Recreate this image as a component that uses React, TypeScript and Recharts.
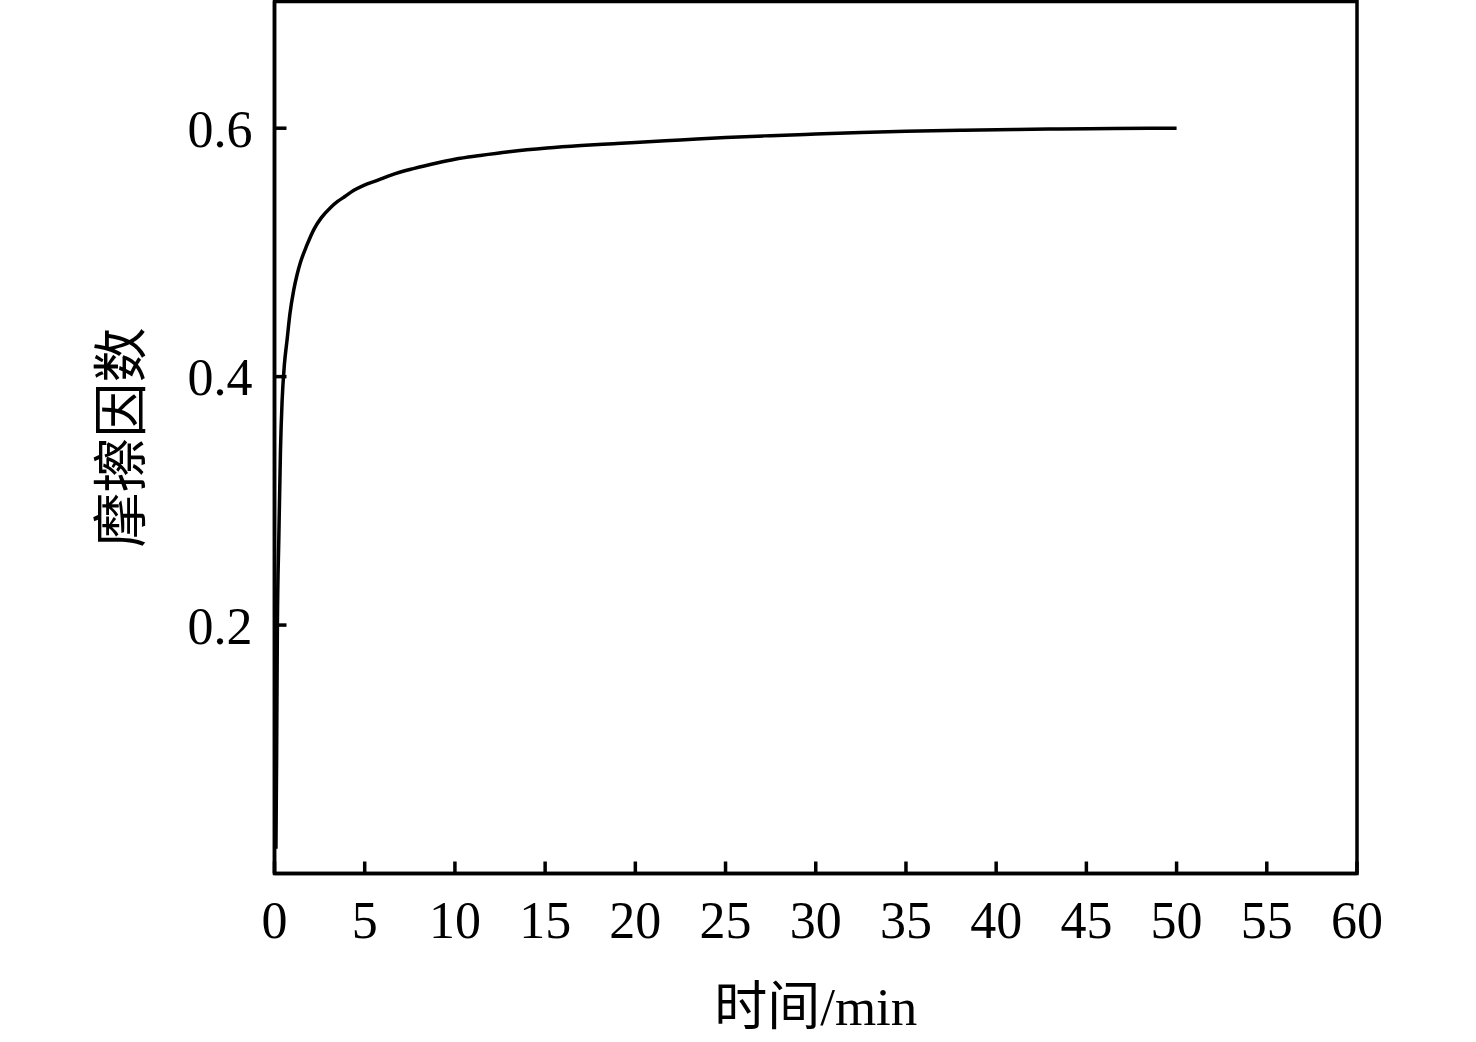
import React from 'react'
import { LineChart, Line, XAxis, YAxis, ReferenceArea } from 'recharts'

// time in minutes
const timeMin = [
  0.08, 0.12, 0.16, 0.24, 0.33, 0.42, 0.55, 0.7, 0.85, 1.07, 1.25, 1.44, 1.8, 2.2, 2.6, 3.1, 3.5,
  3.9, 4.4, 4.95, 5.7, 6.5, 7.7, 9, 10, 11.4, 13, 15.1, 17, 18.8, 20, 22.5, 25, 27.5, 30, 32.5, 35,
  38, 41, 43.5, 46.5, 48.5, 50,
]
// friction coefficient
const friction = [
  0.02, 0.1, 0.2, 0.27, 0.34, 0.38, 0.41, 0.43, 0.45, 0.47, 0.482, 0.492, 0.506, 0.519, 0.528,
  0.536, 0.541, 0.545, 0.55, 0.554, 0.558, 0.5625, 0.5675, 0.572, 0.575, 0.578, 0.581, 0.584,
  0.586, 0.5875, 0.5885, 0.5905, 0.5925, 0.594, 0.5953, 0.5965, 0.5975, 0.5983, 0.599, 0.5994,
  0.5998, 0.5999, 0.6,
]
const xTicks = [0, 5, 10, 15, 20, 25, 30, 35, 40, 45, 50, 55, 60]
const yTicks = [0.2, 0.4, 0.6]

const data = timeMin.map((t, i) => ({ t, f: friction[i] }))

const serif = "'Liberation Serif', 'Noto Sans CJK SC', serif"

export default function App() {
  return (
    <div style={{ position: 'absolute', left: 0, top: 0, background: '#fff' }}>
      <LineChart
        width={1476}
        height={1042}
        data={data}
        margin={{ top: 1.5, right: 119, bottom: 0, left: 0 }}
      >
        <XAxis
          dataKey="t"
          type="number"
          domain={[0, 60]}
          ticks={xTicks}
          interval={0}
          height={168.5}
          tickSize={-12}
          tickMargin={39.5}
          axisLine={{ stroke: '#000', strokeWidth: 3.5 }}
          tickLine={{ stroke: '#000', strokeWidth: 3.5 }}
          tick={{ fill: '#000', fontSize: 52, fontFamily: serif }}
          label={{
            value: '时间/min',
            position: 'insideBottom',
            offset: 17,
            fill: '#000',
            fontSize: 53,
            fontFamily: serif,
          }}
        />
        <YAxis
          type="number"
          domain={[0, 0.702]}
          ticks={yTicks}
          interval={0}
          width={274.5}
          tickSize={-12}
          tickMargin={34}
          tickFormatter={(v: number) => v.toFixed(1)}
          axisLine={{ stroke: '#000', strokeWidth: 3.5 }}
          tickLine={{ stroke: '#000', strokeWidth: 3.5 }}
          tick={{ fill: '#000', fontSize: 52, fontFamily: serif }}
          label={{
            value: '摩擦因数',
            angle: -90,
            position: 'center',
            dx: -17,
            fill: '#000',
            fontSize: 55,
            fontFamily: serif,
          }}
        />
        <ReferenceArea
          x1={0}
          x2={60}
          y1={0}
          y2={0.702}
          fill="none"
          stroke="#000"
          strokeWidth={3.5}
          fillOpacity={0}
        />
        <Line
          dataKey="f"
          type="monotone"
          stroke="#000"
          strokeWidth={3.5}
          dot={false}
          isAnimationActive={false}
        />
      </LineChart>
    </div>
  )
}
